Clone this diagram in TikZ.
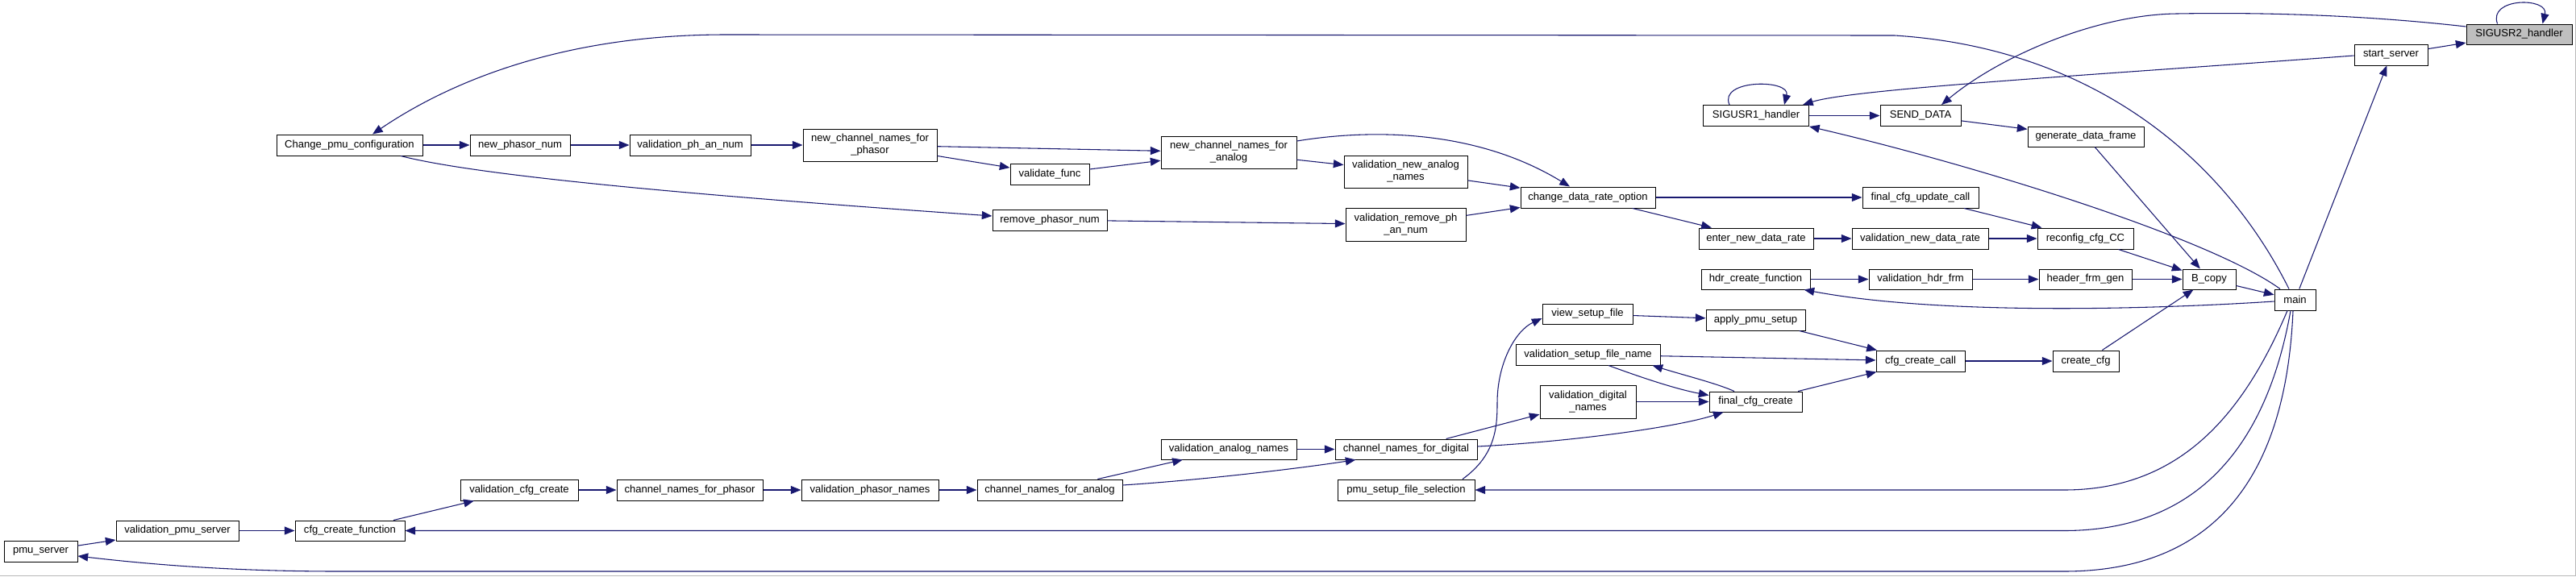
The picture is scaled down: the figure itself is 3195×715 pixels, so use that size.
\documentclass[tikz,border=0pt]{standalone}
\usepackage{fontspec}
\setmainfont{Liberation Sans}
\usetikzlibrary{arrows.meta,calc}
\definecolor{edgec}{HTML}{191970}
\definecolor{focusfill}{HTML}{BFBFBF}
\newcommand\nodefont{\fontsize{9.8}{11.3}\selectfont}
\begin{document}
\begin{tikzpicture}[x=0.75pt,y=-0.75pt,
  box/.style={draw=black, line width=0.75pt, fill=white, inner sep=0pt, font=\nodefont, align=center},
  wh/.style 2 args={minimum width=#1*0.75pt, minimum height=#2*0.75pt},
  e/.style={draw=edgec, line width=0.8pt, -{Triangle[length=9.5pt,width=7.5pt]}}]
\useasboundingbox (0,0) rectangle (3195,715);
\fill[white] (0,0) rectangle (3195,715);
\draw[gray!55, line width=0.75pt] (3194.5,0) -- (3194.5,714.5) -- (0,714.5);

% nodes
\node[box, wh={131}{25}, fill=focusfill] (s2) at (3124.5,42.5) {SIGUSR2\_handler};
\node[box, wh={91}{26}] (ss) at (2965.5,68) {start\_server};
\node[box, wh={131}{26}] (s1) at (2178,143.5) {SIGUSR1\_handler};
\node[box, wh={100}{26}] (sd) at (2382,143.5) {SEND\_DATA};
\node[box, wh={144}{25}] (gdf) at (2587,169.5) {generate\_data\_frame};
\node[box, wh={51}{26}] (mn) at (2846.5,372) {main};
\node[box, wh={66}{25}] (bc) at (2740,346.5) {B\_copy};
\node[box, wh={115}{25}] (hfg) at (2586.5,346.5) {header\_frm\_gen};
\node[box, wh={128}{25}] (vhf) at (2382,346.5) {validation\_hdr\_frm};
\node[box, wh={135}{25}] (hcf) at (2177.5,346.5) {hdr\_create\_function};
\node[box, wh={119}{26}] (rcc) at (2586.5,296) {reconfig\_cfg\_CC};
\node[box, wh={169}{26}] (vndr) at (2381.5,296) {validation\_new\_data\_rate};
\node[box, wh={142}{26}] (endr) at (2178,296) {enter\_new\_data\_rate};
\node[box, wh={144}{26}] (fcuc) at (2382,245) {final\_cfg\_update\_call};
\node[box, wh={167}{26}] (cdro) at (1969.5,245) {change\_data\_rate\_option};
\node[box, wh={153}{40}] (vnan) at (1743.5,213) {validation\_new\_analog\\\_names};
\node[box, wh={149}{41}] (vrpan) at (1743.5,278.5) {validation\_remove\_ph\\\_an\_num};
\node[box, wh={168}{40}] (ncna) at (1524,189) {new\_channel\_names\_for\\\_analog};
\node[box, wh={98}{26}] (vf) at (1302,216) {validate\_func};
\node[box, wh={142}{26}] (rpn) at (1302,273) {remove\_phasor\_num};
\node[box, wh={166}{40}] (ncnp) at (1079,180) {new\_channel\_names\_for\\\_phasor};
\node[box, wh={150}{26}] (vpan) at (856,180) {validation\_ph\_an\_num};
\node[box, wh={124}{26}] (npn) at (645,180) {new\_phasor\_num};
\node[box, wh={181}{26}] (cpc) at (433.5,180) {Change\_pmu\_configuration};
\node[box, wh={82}{26}] (cc) at (2587,448) {create\_cfg};
\node[box, wh={110}{26}] (ccc) at (2382,448) {cfg\_create\_call};
\node[box, wh={123}{26}] (aps) at (2177.5,397) {apply\_pmu\_setup};
\node[box, wh={112}{25}] (vsf) at (1969,389.5) {view\_setup\_file};
\node[box, wh={179}{26}] (vsfn) at (1969.5,440) {validation\_setup\_file\_name};
\node[box, wh={119}{41}] (vdn) at (1969.5,498.5) {validation\_digital\\\_names};
\node[box, wh={115}{25}] (fcc) at (2177.5,498.5) {final\_cfg\_create};
\node[box, wh={176}{25}] (cnd) at (1744,557.5) {channel\_names\_for\_digital};
\node[box, wh={170}{26}] (psfs) at (1744,608) {pmu\_setup\_file\_selection};
\node[box, wh={168}{25}] (van) at (1524,557.5) {validation\_analog\_names};
\node[box, wh={180}{26}] (cna) at (1302,608) {channel\_names\_for\_analog};
\node[box, wh={170}{26}] (vpn) at (1079,608) {validation\_phasor\_names};
\node[box, wh={181}{26}] (cnp) at (855.5,608) {channel\_names\_for\_phasor};
\node[box, wh={146}{26}] (vcc) at (644,608) {validation\_cfg\_create};
\node[box, wh={136}{25}] (ccf) at (434,658.5) {cfg\_create\_function};
\node[box, wh={152}{25}] (vps) at (220,658.5) {validation\_pmu\_server};
\node[box, wh={91}{26}] (ps) at (50.5,684) {pmu\_server};

% self loops
\draw[e] ($(s2.north)+(-27,0)$) .. controls +(-12,-33) and +(8,-33) .. ($(s2.north)+(29,0)$);
\draw[e] ($(s1.north)+(-33,0)$) .. controls +(-14,-32) and +(8,-32) .. ($(s1.north)+(35,0)$);

% straight edges
\draw[e] (ss) -- (s2);
\draw[e] (s1) -- (sd);
\draw[e] (sd) -- (gdf);
\draw[e] (gdf) -- (bc);
\draw[e] (cpc) -- (npn);
\draw[e] (npn) -- (vpan);
\draw[e] (vpan) -- (ncnp);
\draw[e] (ncnp) -- (ncna);
\draw[e] (ncnp) -- (vf);
\draw[e] (vf) -- (ncna);
\draw[e] (ncna) -- (vnan);
\draw[e] (vnan) -- (cdro);
\draw[e] (rpn) -- (vrpan);
\draw[e] (vrpan) -- (cdro);
\draw[e] (cdro) -- (fcuc);
\draw[e] (cdro) -- (endr);
\draw[e] (endr) -- (vndr);
\draw[e] (fcuc) -- (rcc);
\draw[e] (vndr) -- (rcc);
\draw[e] (rcc) -- (bc);
\draw[e] (hcf) -- (vhf);
\draw[e] (vhf) -- (hfg);
\draw[e] (hfg) -- (bc);
\draw[e] (bc) -- (mn);
\draw[e] (mn) -- (ss);
\draw[e] (cc) -- (bc);
\draw[e] (ccc) -- (cc);
\draw[e] (aps) -- (ccc);
\draw[e] (vsfn) -- (ccc);
\draw[e] (fcc) -- (ccc);
\draw[e] (vsf) -- (aps);
\draw[e] (vdn) -- (fcc);
\draw[e] (cnd) -- (vdn);
\draw[e] (van) -- (cnd);
\draw[e] (cna) -- (van);
\draw[e] (vpn) -- (cna);
\draw[e] (cnp) -- (vpn);
\draw[e] (vcc) -- (cnp);
\draw[e] (ccf) -- (vcc);
\draw[e] (vps) -- (ccf);
\draw[e] (ps) -- (vps);

% curved edges
\draw[e] ($(s2.west)+(0,-9.5)$) .. controls (2900,15) and (2760,16) .. (2700,17)
   .. controls (2600,18) and (2480,70) .. ($(sd.north)+(26,0)$);
\draw[e] ($(ss.west)+(0,1)$) .. controls (2600,93) and (2300,110) .. ($(s1.north east)+(-8,0)$);
\draw[e] ($(mn.north)+(-18.5,0)$) .. controls (2740,295) and (2450,205) .. (s1.south east);
\draw[e] ($(mn.north)+(-7.5,0)$) .. controls (2760,200) and (2600,60) .. (2350,44)
   -- (900,43) .. controls (700,43) and (560,100) .. ($(cpc.north)+(28.5,0)$);
\draw[e] ($(ncna.east)+(0,-14)$) .. controls (1700,160) and (1830,160) .. ($(cdro.north)+(-22.5,0)$);
\draw[e] ($(cpc.south)+(63.5,0)$) .. controls (600,220) and (900,245) .. ($(rpn.west)+(0,-5)$);
\draw[e] ($(mn.west)+(0,2)$) .. controls (2650,385) and (2400,390) .. ($(hcf.south east)+(-8,0)$);
\draw[e] ($(vsfn.south)+(25.5,0)$) .. controls (2040,470) and (2080,483) .. ($(fcc.west)+(0,-8)$);
\draw[e] ($(fcc.north)+(-26.5,0)$) .. controls (2130,476) and (2090,466) .. ($(vsfn.south east)+(-10,0)$);
\draw[e] ($(cnd.east)+(0,-3.5)$) .. controls (1950,548) and (2080,530) .. ($(fcc.south west)+(18,0)$);
\draw[e] ($(psfs.north)+(70,0)$) .. controls (1855,565) and (1857,530) .. (1857,500)
   .. controls (1857,450) and (1880,410) .. ($(vsf.west)+(0,5.5)$);
\draw[e] ($(mn.south)+(-9.5,0)$) .. controls (2780,520) and (2700,608) .. (2560,608) -- (psfs.east);
\draw[e] ($(cna.east)+(0,-6)$) .. controls (1500,595) and (1620,580) .. ($(cnd.south west)+(26,0)$);
\draw[e] ($(mn.south)+(-5.5,0)$) .. controls (2810,560) and (2720,658.5) .. (2560,658.5) -- (ccf.east);
\draw[e] ($(mn.south)+(-2.5,0)$) .. controls (2835,600) and (2740,709) .. (2560,709)
   -- (420,709) .. controls (300,709) and (200,702) .. ($(ps.east)+(0,6)$);
\end{tikzpicture}
\end{document}
